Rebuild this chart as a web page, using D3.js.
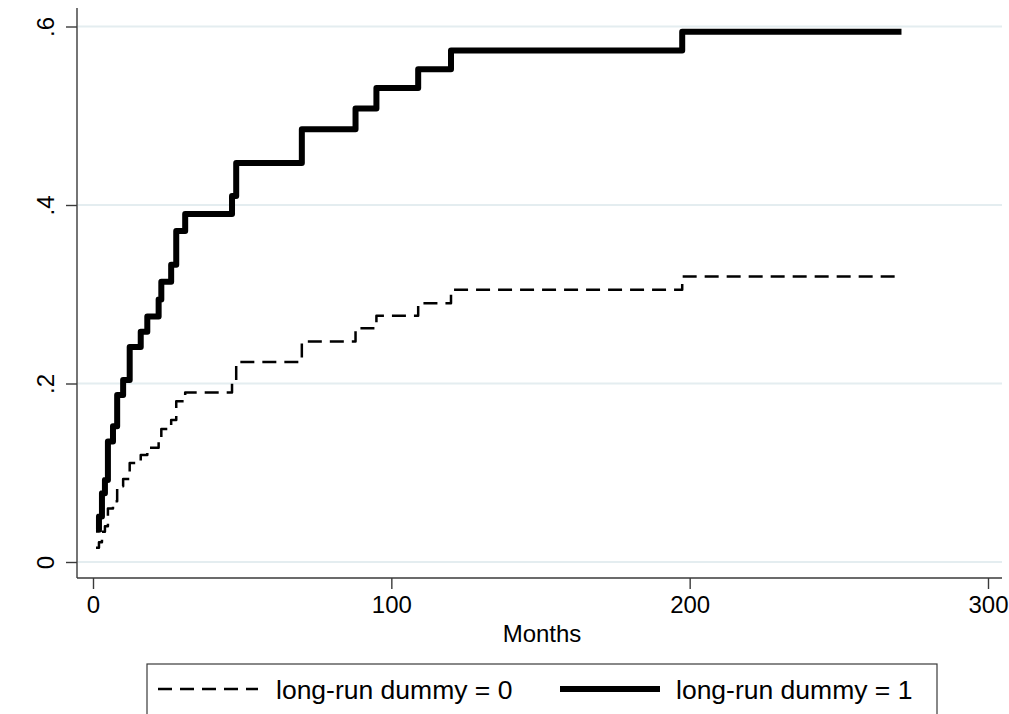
<!DOCTYPE html>
<html>
<head>
<meta charset="utf-8">
<script src="https://cdn.jsdelivr.net/npm/d3@7"></script>
<style>
  body{margin:0;background:#fff;}
  svg{display:block;font-family:"Liberation Sans",Arial,Helvetica,sans-serif;}
</style>
</head>
<body>
<div id="chart"></div>
<script>
// step times (months) and failure levels
const months = [1, 2, 3, 4, 5, 6.7, 8.1, 10.1, 12.3, 16, 18.2, 22, 22.9, 26.2, 27.9, 30.9, 46.6, 48, 70, 88, 95, 109, 120, 197.5, 271];
const dummy1 = [0.036, 0.051, 0.077, 0.092, 0.135, 0.152, 0.187, 0.204, 0.241, 0.258, 0.275, 0.294, 0.314, 0.333, 0.371, 0.390, 0.410, 0.447, 0.485, 0.508, 0.531, 0.552, 0.573, 0.594, 0.594];
const dummy0 = [0.016, 0.022, 0.034, 0.040, 0.060, 0.068, 0.085, 0.093, 0.111, 0.120, 0.128, 0.138, 0.149, 0.159, 0.180, 0.190, 0.202, 0.224, 0.247, 0.262, 0.276, 0.290, 0.305, 0.320, 0.320];
const xTicks = [0, 100, 200, 300];
const yTicks = [0, 0.2, 0.4, 0.6];
const yTickLabels = ["0", ".2", ".4", ".6"];
const legendLabels = ["long-run dummy = 0", "long-run dummy = 1"];

const W = 1009, H = 714;
const plot = {l:77, r:1002, t:8, b:578};
const x = d3.scaleLinear().domain([0,300]).range([93, 988]);
const y = d3.scaleLinear().domain([0,0.6]).range([562, 26.5]);

const svg = d3.select("#chart").append("svg").attr("width",W).attr("height",H);

// gridlines
svg.append("g").selectAll("line").data(yTicks).join("line")
  .attr("x1",plot.l+1).attr("x2",plot.r).attr("y1",d=>y(d)).attr("y2",d=>y(d))
  .attr("stroke","#e4edf0").attr("stroke-width",2);

// y axis, labels rotated
const yAx = d3.axisLeft(y).tickValues(yTicks).tickSize(11).tickFormat((d,i)=>yTickLabels[i]);
svg.append("g").attr("transform",`translate(${plot.l},0)`).call(yAx)
  .call(g=>g.select(".domain").attr("d",`M0,${plot.t}V${plot.b}`))
  .call(g=>g.selectAll("line,path").attr("stroke","#3a3a3a").attr("stroke-width",1.4))
  .call(g=>g.selectAll("text").attr("x",null).attr("dy",null)
    .attr("transform",`translate(${45-plot.l},0) rotate(-90)`)
    .attr("dy","0.36em").attr("text-anchor","middle")
    .attr("font-size",24).attr("fill","#000").style("font-family","inherit"));

// x axis
const xAx = d3.axisBottom(x).tickValues(xTicks).tickSize(11).tickPadding(7);
svg.append("g").attr("transform",`translate(0,${plot.b})`).call(xAx)
  .call(g=>g.select(".domain").attr("d",`M${plot.l},0H${plot.r}`))
  .call(g=>g.selectAll("line,path").attr("stroke","#3a3a3a").attr("stroke-width",1.4))
  .call(g=>g.selectAll("text").attr("font-size",24).attr("fill","#000").style("font-family","inherit"));

svg.append("text").attr("x",542).attr("y",642).attr("text-anchor","middle")
  .attr("font-size",24).text("Months");

// step curves
const line = d3.line().x(d=>x(d[0])).y(d=>y(d[1])).curve(d3.curveStepAfter);
svg.append("path").datum(months.map((m,i)=>[m,dummy0[i]])).attr("d",line)
  .attr("fill","none").attr("stroke","#000").attr("stroke-width",2.5)
  .attr("stroke-dasharray","14,8").attr("stroke-linejoin","round");
svg.append("path").datum(months.map((m,i)=>[m,dummy1[i]])).attr("d",line)
  .attr("fill","none").attr("stroke","#000").attr("stroke-width",6)
  .attr("stroke-linejoin","round");

// legend
const lg = svg.append("g");
lg.append("rect").attr("x",147).attr("y",664).attr("width",790).attr("height",80)
  .attr("fill","#fff").attr("stroke","#3a3a3a").attr("stroke-width",1.2);
lg.append("line").attr("x1",158).attr("x2",258).attr("y1",689).attr("y2",689)
  .attr("stroke","#000").attr("stroke-width",2.5).attr("stroke-dasharray","14,8");
lg.append("text").attr("x",276).attr("y",689).attr("dy","0.36em").attr("font-size",26.5).text(legendLabels[0]);
lg.append("line").attr("x1",560).attr("x2",660).attr("y1",689).attr("y2",689)
  .attr("stroke","#000").attr("stroke-width",6);
lg.append("text").attr("x",676).attr("y",689).attr("dy","0.36em").attr("font-size",26.5).text(legendLabels[1]);
</script>
</body>
</html>
